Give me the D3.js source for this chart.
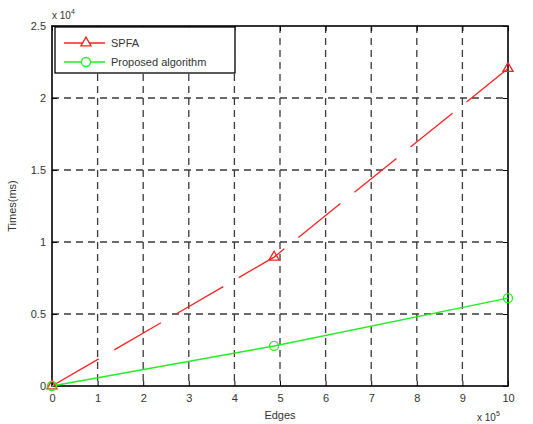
<!DOCTYPE html>
<html>
<head>
<meta charset="utf-8">
<script src="https://cdn.jsdelivr.net/npm/d3@7"></script>
<style>
  body { margin: 0; background: #fff; }
  svg { font-family: 'Liberation Sans', Arial, sans-serif; }
</style>
</head>
<body>
<svg class="chart" width="533" height="424"></svg>
<script>
// edges are in units of 1e5, times in units of 1e4 ms
const edges = [0, 4.87, 10];
const spfaTimes = [0, 0.895, 2.205];
const proposedTimes = [0, 0.278, 0.61];
const xTicks = [0, 1, 2, 3, 4, 5, 6, 7, 8, 9, 10];
const yTicks = [0, 0.5, 1, 1.5, 2, 2.5];
const seriesNames = ["SPFA", "Proposed algorithm"];

const svgWidth = 533;
const svgHeight = 424;

const margin = {top: 26, bottom: 38, left: 52, right: 25};
const width = svgWidth - margin.left - margin.right;
const height = svgHeight - margin.top - margin.bottom;

const x = d3.scaleLinear().domain([0, 10]).range([0, width]);
const y = d3.scaleLinear().domain([0, 2.5]).range([height, 0]);

const svg = d3.select('svg.chart');
const g = svg.append('g')
  .attr('transform', `translate(${margin.left}, ${margin.top})`);

// grid
g.append('g').selectAll('line.vgrid')
  .data(xTicks.slice(1, -1))
  .enter().append('line')
  .attr('x1', d => x(d)).attr('x2', d => x(d))
  .attr('y1', 0).attr('y2', height)
  .style('stroke', '#3a3a3a').style('stroke-width', 1.3)
  .style('stroke-dasharray', '7,5');

g.append('g').selectAll('line.hgrid')
  .data(yTicks.slice(1, -1))
  .enter().append('line')
  .attr('x1', 0).attr('x2', width)
  .attr('y1', d => y(d)).attr('y2', d => y(d))
  .style('stroke', '#3a3a3a').style('stroke-width', 1.3)
  .style('stroke-dasharray', '7,5');

// axes with inner ticks
const xAxis = d3.axisBottom(x).tickValues(xTicks).tickSizeInner(-5).tickSizeOuter(0).tickPadding(8);
const yAxis = d3.axisLeft(y).tickValues(yTicks).tickSizeInner(-5).tickSizeOuter(0).tickPadding(6)
  .tickFormat(d => d3.format('')(d));

const xg = g.append('g').attr('transform', `translate(0, ${height})`).call(xAxis);
const yg = g.append('g').call(yAxis);
const xgTop = g.append('g').call(d3.axisTop(x).tickValues(xTicks).tickSizeInner(-5).tickSizeOuter(0).tickFormat(''));
const ygRight = g.append('g').attr('transform', `translate(${width}, 0)`)
  .call(d3.axisRight(y).tickValues(yTicks).tickSizeInner(-5).tickSizeOuter(0).tickFormat(''));

[xg, yg, xgTop, ygRight].forEach(a => {
  a.select('.domain').remove();
  a.selectAll('line').style('stroke', '#000').style('stroke-width', 1);
  a.selectAll('text').style('font-size', '11px').style('fill', '#333');
});

// box
g.append('rect')
  .attr('x', 0).attr('y', 0).attr('width', width).attr('height', height)
  .style('fill', 'none').style('stroke', '#000').style('stroke-width', 1.6);

// axis labels
svg.append('text')
  .text('Edges')
  .attr('x', margin.left + width / 2).attr('y', 419)
  .attr('text-anchor', 'middle')
  .style('font-size', '11px').style('fill', '#333');

svg.append('text')
  .text('Times(ms)')
  .attr('transform', `translate(16, ${margin.top + height / 2}) rotate(-90)`)
  .attr('text-anchor', 'middle')
  .style('font-size', '11px').style('fill', '#333');

// exponent labels
svg.append('text')
  .html('x 10<tspan dy="-5" style="font-size:7px">4</tspan>')
  .attr('x', margin.left).attr('y', 19)
  .style('font-size', '10px').style('fill', '#333');

svg.append('text')
  .html('x 10<tspan dy="-5" style="font-size:7px">5</tspan>')
  .attr('x', 477).attr('y', 421)
  .style('font-size', '10px').style('fill', '#333');

// lines
const line = d3.line().x(d => x(d[0])).y(d => y(d[1]));
const spfa = edges.map((e, i) => [e, spfaTimes[i]]);
const prop = edges.map((e, i) => [e, proposedTimes[i]]);

const plot = g.append('g');

plot.append('path')
  .datum(spfa)
  .attr('d', line)
  .style('fill', 'none').style('stroke', '#ff2020').style('stroke-width', 1.3)
  .style('stroke-dasharray', '54,18');

plot.append('path')
  .datum(prop)
  .attr('d', line)
  .style('fill', 'none').style('stroke', '#22ee22').style('stroke-width', 1.4);

const tri = d3.symbol().type(d3.symbolTriangle).size(45);

plot.selectAll('path.tri')
  .data(spfa)
  .enter().append('path')
  .attr('class', 'tri')
  .attr('d', tri)
  .attr('transform', d => `translate(${x(d[0])}, ${y(d[1])})`)
  .style('fill', 'none').style('stroke', '#ff2020').style('stroke-width', 1.3);

plot.selectAll('circle.mk')
  .data(prop)
  .enter().append('circle')
  .attr('class', 'mk')
  .attr('cx', d => x(d[0])).attr('cy', d => y(d[1])).attr('r', 4.5)
  .style('fill', 'none').style('stroke', '#22ee22').style('stroke-width', 1.3);

// legend
const legend = svg.append('g').attr('transform', 'translate(55, 27)');
legend.append('rect')
  .attr('width', 180).attr('height', 46)
  .style('fill', '#fff').style('stroke', '#000').style('stroke-width', 1.3);

const colors = ['#ff2020', '#22ee22'];
const items = legend.selectAll('g.item')
  .data(seriesNames)
  .enter().append('g')
  .attr('class', 'item')
  .attr('transform', (d, i) => `translate(0, ${16 + i * 19})`);

items.append('line')
  .attr('x1', 9).attr('x2', 50).attr('y1', 0).attr('y2', 0)
  .style('stroke', (d, i) => colors[i]).style('stroke-width', 1.3);

items.each(function(d, i) {
  const it = d3.select(this);
  if (i === 0) {
    it.append('path').attr('d', tri).attr('transform', 'translate(31, 0)')
      .style('fill', '#fff').style('stroke', colors[i]).style('stroke-width', 1.3);
  } else {
    it.append('circle').attr('cx', 31).attr('cy', 0).attr('r', 4.5)
      .style('fill', '#fff').style('stroke', colors[i]).style('stroke-width', 1.3);
  }
});

items.append('text')
  .text(d => d)
  .attr('x', 56).attr('y', 4)
  .style('font-size', '11px').style('fill', '#333');
</script>
</body>
</html>
